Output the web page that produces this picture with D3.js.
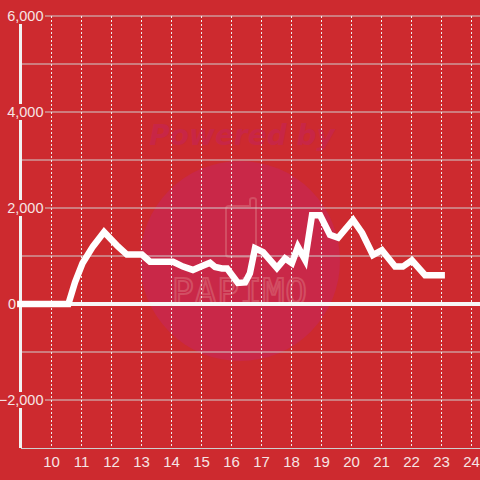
<!DOCTYPE html>
<html><head><meta charset="utf-8">
<script src="https://cdn.jsdelivr.net/npm/d3@7"></script>
<style>html,body{margin:0;padding:0;background:#cd2a2f;}svg{display:block;}</style>
</head><body>
<svg id="c" width="480" height="480"></svg>
<script>
const hours = [8.87, 10.58, 10.8, 11.05, 11.4, 11.77, 12.0, 12.23, 12.53, 13.03, 13.3, 14.07, 14.4, 14.73, 15.0, 15.3, 15.47, 15.7, 15.87, 16.23, 16.47, 16.63, 16.8, 17.07, 17.53, 17.8, 18.03, 18.23, 18.47, 18.7, 18.97, 19.3, 19.57, 20.07, 20.37, 20.73, 21.03, 21.47, 21.73, 22.03, 22.47, 23.13];
const values = [0, 0, 450, 850, 1200, 1500, 1350, 1200, 1030, 1030, 880, 880, 780, 710, 780, 860, 770, 740, 740, 440, 450, 640, 1160, 1080, 750, 950, 850, 1190, 920, 1850, 1850, 1440, 1380, 1750, 1480, 1020, 1120, 780, 780, 910, 600, 600];
const xTicks = [10, 11, 12, 13, 14, 15, 16, 17, 18, 19, 20, 21, 22, 23, 24];
const yGrid = [-2000, -1000, 0, 1000, 2000, 3000, 4000, 5000, 6000];
const yLabels = [-2000, 0, 2000, 4000, 6000];

const svg = d3.select("#c");
const x = d3.scaleLinear().domain([9, 24.3]).range([21, 480]);
const y = d3.scaleLinear().domain([-3000, 6000]).range([448, 16]);
const fmt = d3.format(",");
const FONT = "Liberation Sans, Arial, sans-serif";

// watermark
svg.append("circle").attr("cx", 240).attr("cy", 261).attr("r", 100).attr("fill", "#c92848");
svg.append("text").attr("x", 242).attr("y", 145).attr("text-anchor", "middle")
  .attr("font-family", "DejaVu Sans, sans-serif").attr("font-size", 28)
  .attr("font-weight", "bold").attr("font-style", "italic").attr("fill", "#c82646").text("Powered by");
svg.append("path")
  .attr("d", "M226,209 Q226,206 229,206 L250,206 L250,200 Q250,198 253,198 Q256,198 256,200 L256,254 Q256,257 253,257 L229,257 Q226,257 226,254 Z")
  .attr("fill", "none").attr("stroke", "#d24e63").attr("stroke-width", 2);
svg.append("text").attr("x", 240).attr("y", 304).attr("text-anchor", "middle")
  .attr("font-family", "DejaVu Sans Mono, monospace").attr("font-size", 36).attr("letter-spacing", 1)
  .attr("fill", "none").attr("stroke", "#d24e63").attr("stroke-width", 2).text("PAPIMO");

// horizontal grid
svg.append("g").selectAll("line").data(yGrid).join("line")
  .attr("x1", 21).attr("x2", 480).attr("y1", d => y(d)).attr("y2", d => y(d))
  .attr("stroke", "#cfcfcf").attr("stroke-width", 1);
// vertical dashed grid
svg.append("g").selectAll("line").data(xTicks).join("line")
  .attr("x1", d => Math.round(x(d)) + 0.5).attr("x2", d => Math.round(x(d)) + 0.5)
  .attr("y1", y(6000)).attr("y2", y(-3000))
  .attr("stroke", "#eeeeee").attr("stroke-width", 1).attr("stroke-dasharray", "2,2");

// bottom axis
const xAxis = d3.axisBottom(x).tickValues(xTicks).tickSize(0).tickPadding(8).tickFormat(d => d);
const gx = svg.append("g").attr("transform", `translate(0,${y(-3000)})`).call(xAxis);
gx.select(".domain").attr("stroke", "#cfcfcf").attr("stroke-width", 1).attr("d", "M21,0.5H480");
gx.selectAll("text").attr("fill", "#f6e4e4").attr("font-size", 15).attr("font-family", FONT);

// y axis line
svg.append("line").attr("x1", 20.5).attr("x2", 20.5).attr("y1", y(6000)).attr("y2", y(-3000))
  .attr("stroke", "#f2f2f2").attr("stroke-width", 3);

// zero line
svg.append("line").attr("x1", 21).attr("x2", 480).attr("y1", y(0)).attr("y2", y(0))
  .attr("stroke", "#f7f7f7").attr("stroke-width", 4);

// y labels with background (the zero label sits left of the axis)
const yl = svg.append("g").selectAll("g").data(yLabels).join("g")
  .attr("transform", d => `translate(0,${y(d)})`);
yl.filter(d => d !== 0).append("rect").attr("x", 0).attr("y", -8).attr("width", 45).attr("height", 16).attr("fill", "#cd2a2f");
yl.append("text").attr("x", d => d === 0 ? 16 : 43.5).attr("dy", "0.35em").attr("text-anchor", "end")
  .attr("font-family", FONT).attr("font-size", 14.5)
  .attr("fill", "#f6e4e4").text(d => fmt(d));

// series
const pts = hours.map((h, i) => [h, values[i]]);
const line = d3.line().x(d => x(d[0])).y(d => y(d[1]));
svg.append("path").attr("d", line(pts)).attr("fill", "none").attr("stroke", "#ffffff")
  .attr("stroke-width", 6.5).attr("stroke-linejoin", "miter");
</script>
</body></html>
